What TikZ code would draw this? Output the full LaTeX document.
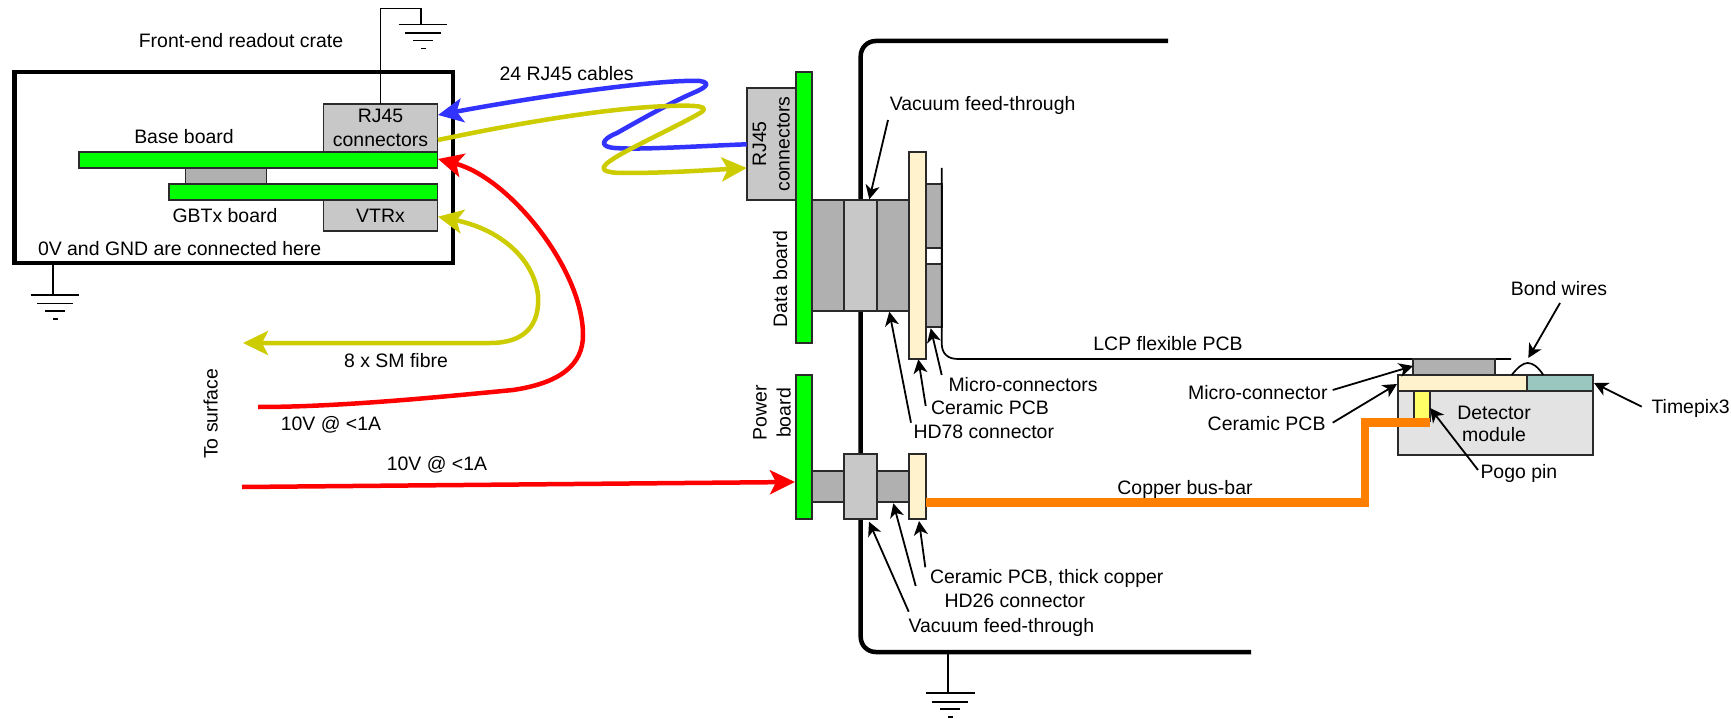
\documentclass[tikz,border=0pt]{standalone}
\usepackage{fontspec}
\setmainfont{Liberation Sans}
\usetikzlibrary{arrows.meta}
\definecolor{boardgreen}{HTML}{00FF00}
\definecolor{conngrey}{HTML}{B0B0B0}
\definecolor{feedgrey}{HTML}{C8C8C8}
\definecolor{ceramic}{HTML}{FFF2CC}
\definecolor{timepix}{HTML}{9AC7BF}
\definecolor{detgrey}{HTML}{E3E3E3}
\definecolor{pogo}{HTML}{FFFF66}
\definecolor{busorange}{HTML}{FF8000}
\definecolor{cableblue}{HTML}{3333FF}
\definecolor{cableyellow}{HTML}{CCCC00}
\definecolor{edge}{HTML}{2A2A2A}
\tikzset{
  part/.style={draw=edge,line width=1.8pt,anchor=north west,inner sep=0pt,outer sep=0pt,align=center,
    font=\fontsize{19.45}{23.5}\selectfont},
  boardpart/.style={part,fill=boardgreen},
  connpart/.style={part,fill=conngrey},
  feedpart/.style={part,fill=feedgrey},
  ceramicpart/.style={part,fill=ceramic},
  lbl/.style={inner sep=1.5pt,outer sep=0pt,text height=14pt,text depth=0pt,
    font=\fontsize{19.45}{23}\selectfont},
  lblr/.style={lbl,rotate=90},
  lblm/.style={inner sep=1.5pt,outer sep=0pt,rotate=90,align=center,font=\fontsize{19.45}{24}\selectfont},
  wall/.style={draw=black,line width=4.5pt},
  wire/.style={draw=black,line width=1.7pt},
  lead/.style={draw=black,line width=1.8pt,-{Stealth[length=14pt,width=14pt,inset=4pt]}},
  cable/.style={line width=4.5pt,line join=round},
  bighead/.style={-{Stealth[length=25pt,width=24pt,inset=6pt]}},
  gndsym/.pic={
    \draw[wire] (-22.3,0) -- (26.3,0);
    \draw[wire] (-16,8.4) -- (19.7,8.4);
    \draw[wire] (-8,16) -- (12,16);
    \draw[wire] (0,24) -- (5,24);
  }
}
\begin{document}
\begin{tikzpicture}[x=1pt,y=-1pt]
\useasboundingbox[fill=white] (0,0) rectangle (1731,719);

% vacuum vessel wall
\coordinate (wallTop) at (1168,41);
\coordinate (wallTL) at (860.7,41);
\coordinate (wallBL) at (860.7,652);
\coordinate (wallBot) at (1251,652);
\draw[wall,rounded corners=15pt] (wallTop) -- (wallTL) -- (wallBL) -- (wallBot);

% front-end crate
\node[part,draw=black,line width=4.5pt,minimum width=438.5pt,minimum height=191pt] (crate) at (14.5,72) {};
\node[feedpart,minimum width=114pt,minimum height=48pt] (rjA) at (323.5,104) {\raisebox{-1.5pt}{RJ45}\\\raisebox{-1.5pt}{connectors}};
\node[boardpart,minimum width=358.5pt,minimum height=16pt] (base) at (79,152) {};
\node[connpart,minimum width=81pt,minimum height=16pt] (bridge) at (185.5,168) {};
\node[boardpart,minimum width=268.5pt,minimum height=16pt] (gbtx) at (169,184) {};
\node[feedpart,minimum width=114pt,minimum height=31pt] (vtrx) at (323.5,200) {VTRx};
\node[lbl] (tCrate) at (241,41) {Front-end readout crate};
\node[lbl] (tBase) at (184,137) {Base board};
\node[lbl] (tGbtx) at (225,216) {GBTx board};
\node[lbl,anchor=west] (tGnd) at (36.5,248) {0V and GND are connected here};

% grounds
\coordinate (gndA) at (421,24.5);
\coordinate (gndB) at (53,295);
\coordinate (gndC) at (948.3,693.3);
\coordinate (gndCtop) at (948.3,652);
\coordinate (gndBtop) at (53,263);
\coordinate (gndAtop) at (421,8.5);
\draw[wire] (rjA.north) -- (rjA.north |- gndAtop) -- (gndAtop) -- (gndA);
\draw[wire] (gndBtop) -- (gndB);
\draw[wire] (gndCtop) -- (gndC);
\pic at (gndA) {gndsym};
\pic at (gndB) {gndsym};
\pic at (gndC) {gndsym};

% data side
\node[feedpart,rotate=90,anchor=center,minimum width=112pt,minimum height=49pt] (rjB) at (771.2,144) {RJ45\\connectors};
\node[boardpart,minimum width=16pt,minimum height=271pt] (dataB) at (795.7,72) {};
\node[connpart,minimum width=32pt,minimum height=111pt] (hdA) at (811.7,200) {};
\node[feedpart,minimum width=33pt,minimum height=111pt] (vftA) at (843.7,200) {};
\node[connpart,minimum width=32.3pt,minimum height=111pt] (hdB) at (876.7,200) {};
\node[ceramicpart,minimum width=16.7pt,minimum height=207pt] (cerA) at (909,152) {};
\node[connpart,minimum width=16pt,minimum height=64pt] (mcA) at (925.7,183.7) {};
\node[part,fill=white,minimum width=16pt,minimum height=16pt] (mcGap) at (925.7,247.7) {};
\node[connpart,minimum width=16pt,minimum height=63pt] (mcB) at (925.7,263.7) {};
\coordinate (flexTop) at (941.7,168);
\coordinate (flexEnd) at (1511,359);
\draw[wire] (flexTop) -- (941.7,343) .. controls (941.7,354) and (948,359) .. (958,359) -- (flexEnd);
\node[lblr] (tDataB) at (780,279) {Data board};

% power side
\node[boardpart,minimum width=16pt,minimum height=143.7pt] (powerB) at (795.7,375) {};
\node[connpart,minimum width=32pt,minimum height=31.3pt] (hdC) at (811.7,470.7) {};
\node[connpart,minimum width=32.3pt,minimum height=31.3pt] (hdD) at (877,470.7) {};
\node[feedpart,minimum width=33pt,minimum height=64.4pt] (vftB) at (844,454.3) {};
\node[ceramicpart,minimum width=16.4pt,minimum height=64.4pt] (cerB) at (909.3,454.3) {};
\node[lblm] (tPowerB) at (772,413) {Power\\board};

% detector module
\node[connpart,minimum width=81.7pt,minimum height=15.7pt] (mcC) at (1413.3,359.3) {};
\node[part,fill=detgrey,minimum width=195pt,minimum height=64pt] (det) at (1397.7,390.7) {};
\node[lbl] (tDet) at (1494,412.7) {Detector};
\node[lbl] (tDet2) at (1494,434) {module};
\node[ceramicpart,minimum width=129.6pt,minimum height=15.7pt] (cerC) at (1397.7,375) {};
\node[part,fill=timepix,minimum width=65.4pt,minimum height=15.7pt] (tpx) at (1527.3,375) {};
\node[part,fill=pogo,minimum width=16.3pt,minimum height=30pt] (pogoP) at (1413.7,390.7) {};
\draw[wire] (1511.7,375) .. controls (1518,367) and (1523,363) .. (1527.7,363) .. controls (1533,363) and (1538,367) .. (1543.3,375);

% copper bus-bar
\coordinate (busMidA) at (1365,502.7);
\coordinate (busMidB) at (1365,422.3);
\coordinate (busEnd) at (1430,422.3);
\draw[draw=busorange,line width=8.5pt] (cerB.east |- busMidA) -- (busMidA) -- (busMidB) -- (busEnd);

% cables
\coordinate (blueTip) at (438,115);
\coordinate (yelA) at (438,140);
\coordinate (yelTip) at (746.7,168);
\coordinate (blueS) at (746.7,144.3);
\coordinate (redTip) at (438,159);
\coordinate (redS) at (258,407);
\coordinate (vtrxTip) at (438,216.7);
\coordinate (fibreTip) at (243,343);
\coordinate (red2S) at (242,487);
\coordinate (red2Tip) at (795,482);
\draw[cable,cableblue,bighead] (blueS) .. controls (700,146) and (640,150) .. (615,148)
  .. controls (600,147) and (600,140) .. (617,133)
  .. controls (640,120) and (670,103) .. (693,93)
  .. controls (705,88) and (712,83) .. (700,81)
  .. controls (660,79) and (540,96) .. (blueTip);
\draw[cable,cableyellow,bighead] (yelA) .. controls (500,127) and (600,108) .. (670,106)
  .. controls (695,105) and (712,106) .. (700,113)
  .. controls (680,125) and (625,150) .. (610,161)
  .. controls (597,170) and (605,173) .. (625,173)
  .. controls (670,173) and (710,170) .. (yelTip);
\draw[cable,red,bighead] (redS) .. controls (340,407) and (440,397) .. (513,390)
  .. controls (560,383) and (583,365) .. (583,335)
  .. controls (583,270) and (510,178) .. (redTip);
\draw[cable,cableyellow,{Stealth[length=25pt,width=24pt,inset=6pt]}-{Stealth[length=25pt,width=24pt,inset=6pt]}]
  (fibreTip) -- (490,343) .. controls (525,343) and (540,325) .. (538,295)
  .. controls (533,255) and (495,228) .. (vtrxTip);
\draw[cable,red,bighead] (red2S) -- (red2Tip);

% cable labels
\node[lbl] (tRj) at (566.7,73.3) {24 RJ45 cables};
\node[lbl] (tSm) at (396,360) {8 x SM fibre};
\node[lbl] (tV1) at (331,423) {10V @ <1A};
\node[lbl] (tV2) at (437,463) {10V @ <1A};
\node[lblr] (tSurf) at (210.7,414) {To surface};
\node[lbl] (tLcp) at (1168,343.5) {LCP flexible PCB};
\node[lbl] (tBus) at (1185,487.5) {Copper bus-bar};

% leader labels
\node[lbl] (tVftA) at (982.6,104) {Vacuum feed-through};
\node[lbl,anchor=west] (tMc) at (947,384) {Micro-connectors};
\node[lbl,anchor=west] (tCerA) at (929.5,407.3) {Ceramic PCB};
\node[lbl,anchor=west] (tHd78) at (912,431.7) {HD78 connector};
\node[lbl,anchor=west] (tCerB) at (928.5,576.7) {Ceramic PCB, thick copper};
\node[lbl,anchor=west] (tHd26) at (943,600.3) {HD26 connector};
\node[lbl,anchor=west] (tVftB) at (907,625.7) {Vacuum feed-through};
\node[lbl,anchor=east] (tMcC) at (1329,392) {Micro-connector};
\node[lbl,anchor=east] (tCerC) at (1327,423) {Ceramic PCB};
\node[lbl,anchor=west] (tPogo) at (1479,471.7) {Pogo pin};
\node[lbl,anchor=west] (tTpx) at (1650,406.7) {Timepix3};
\node[lbl] (tBond) at (1559,288) {Bond wires};

% leader tips and tails
\coordinate (aVftA) at (888,120);
\coordinate (bVftA) at (869.3,199.3);
\coordinate (aMc) at (941.7,375);
\coordinate (bMc) at (930.7,328.3);
\coordinate (aCerA) at (925.7,406);
\coordinate (bCerA) at (918.3,359.3);
\coordinate (aHd78) at (911,422.7);
\coordinate (bHd78) at (889.3,311.7);
\coordinate (aCerB) at (925.3,567.3);
\coordinate (bCerB) at (919,521);
\coordinate (aHd26) at (915.7,586);
\coordinate (bHd26) at (893.3,503.3);
\coordinate (aVftB) at (908.7,611.7);
\coordinate (bVftB) at (869,521.7);
\coordinate (aMcC) at (1332.7,390);
\coordinate (bMcC) at (1413,366);
\coordinate (aCerC) at (1332.7,422.7);
\coordinate (bCerC) at (1397,384);
\coordinate (aPogo) at (1478,470);
\coordinate (bPogo) at (1430,408);
\coordinate (aTpx) at (1641.7,406.7);
\coordinate (bTpx) at (1594,383);
\coordinate (aBond) at (1560,303);
\coordinate (bBond) at (1528.3,358);
\foreach \s/\e in {aVftA/bVftA,aMc/bMc,aCerA/bCerA,aHd78/bHd78,aCerB/bCerB,aHd26/bHd26,aVftB/bVftB,aMcC/bMcC,aCerC/bCerC,aPogo/bPogo,aTpx/bTpx,aBond/bBond}
  \draw[lead] (\s) -- (\e);
\end{tikzpicture}
\end{document}
